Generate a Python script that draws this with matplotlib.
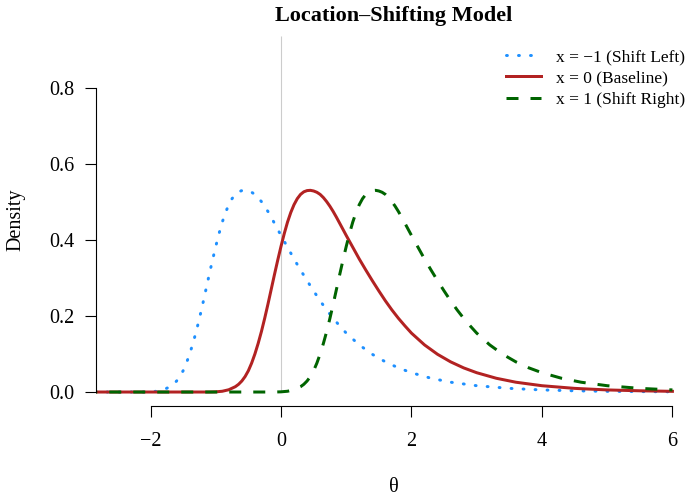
import matplotlib
matplotlib.use('agg')
import matplotlib.pyplot as plt
import numpy as np

plt.rcParams['font.family'] = ['Liberation Serif', 'DejaVu Serif']

# baseline density (x = 0)
theta = [-4.0, -1.2, -1.1, -1.0, -0.9, -0.8, -0.7, -0.65, -0.6, -0.55, -0.5, -0.45,
         -0.4, -0.35, -0.3, -0.25, -0.2, -0.15, -0.1, -0.05, 0.0, 0.05, 0.1, 0.15,
         0.2, 0.25, 0.3, 0.35, 0.4, 0.45, 0.5, 0.55, 0.6, 0.65, 0.7, 0.75, 0.8, 0.85,
         0.9, 1.0, 1.1, 1.2, 1.3, 1.4, 1.5, 1.6, 1.7, 1.8, 1.9, 2.0, 2.2, 2.4, 2.6,
         2.8, 3.0, 3.3, 3.6, 4.0, 4.5, 5.0, 5.5, 6.0, 7.0]
density = [0.0, 0.0, 0.0, 0.0005, 0.002, 0.006, 0.014, 0.0203, 0.029, 0.0407, 0.056, 0.076,
           0.100, 0.1278, 0.159, 0.1938, 0.231, 0.270, 0.309, 0.3469, 0.383, 0.4168, 0.447, 0.4723,
           0.493, 0.5088, 0.520, 0.5268, 0.530, 0.5307, 0.529, 0.5256, 0.520, 0.5116, 0.501, 0.4888, 0.475, 0.4599,
           0.444, 0.412, 0.381, 0.350, 0.321, 0.293, 0.266, 0.240, 0.216, 0.194, 0.174, 0.155, 0.124, 0.0992, 0.0794,
           0.0635, 0.0508, 0.0362, 0.0258, 0.0166, 0.0096, 0.0055, 0.0032, 0.0018, 0.0006]

shifts = [-1, 0, 1]
labels = ['x = \u22121 (Shift Left)', 'x = 0 (Baseline)', 'x = 1 (Shift Right)']
colors = ['#1E90FF', '#B22222', '#006400']
styles = [(0, (0.3, 3.7)), '-', (0, (4, 4))]

W, H = 692, 500
fig = plt.figure(figsize=(W / 100, H / 100), dpi=100)
ax = fig.add_axes([95.7 / W, 1 - 405.7 / H, 1 - 95.7 / W, (405.7 - 36.3) / H])
ax.set_xlim(-2.84, 6.30)
ax.set_ylim(-0.036, 0.936)

ax.vlines(0, 0, 0.936, color='#CCCCCC', lw=0.8, zorder=1)

th = np.array(theta)
dens = np.array(density)
for s, lab, c, ls in zip(shifts, labels, colors, styles):
    keep = th + s <= 6.0001
    ax.plot(th[keep] + s, dens[keep], color=c, lw=2.16, linestyle=ls,
            dash_capstyle='round' if s == -1 else 'butt', label=lab, zorder=2)

for sp in ['top', 'right']:
    ax.spines[sp].set_visible(False)
ax.spines['left'].set_bounds(0, 0.8)
ax.spines['bottom'].set_bounds(-2, 6)
ax.spines['left'].set_linewidth(0.8)
ax.spines['bottom'].set_linewidth(0.8)

ax.set_xticks([-2, 0, 2, 4, 6])
ax.set_yticks([0, 0.2, 0.4, 0.6, 0.8])
ax.yaxis.set_major_formatter('{x:.1f}')
ax.tick_params(direction='out', length=8, width=0.8, labelsize=14.5, pad=7)
ax.tick_params(axis='x', pad=11)

fig.text(394 / W, 1 - 16 / H, 'Location\u2013Shifting Model', ha='center', va='center',
         fontsize=16, fontweight='bold')
fig.text(15.5 / W, 1 - 220 / H, 'Density', rotation=90, ha='center', va='center', fontsize=14.5)
fig.text(394 / W, 1 - 488 / H, '\u03b8', ha='center', va='center', fontsize=14.5)

ax.legend(loc='upper right', bbox_to_anchor=(685 / W, 1 - 49 / H), bbox_transform=fig.transFigure,
          frameon=False, fontsize=12.5, handlelength=2.0, handletextpad=0.85,
          labelspacing=0.3, borderpad=0, borderaxespad=0)

fig.savefig('out.png', dpi=100)
